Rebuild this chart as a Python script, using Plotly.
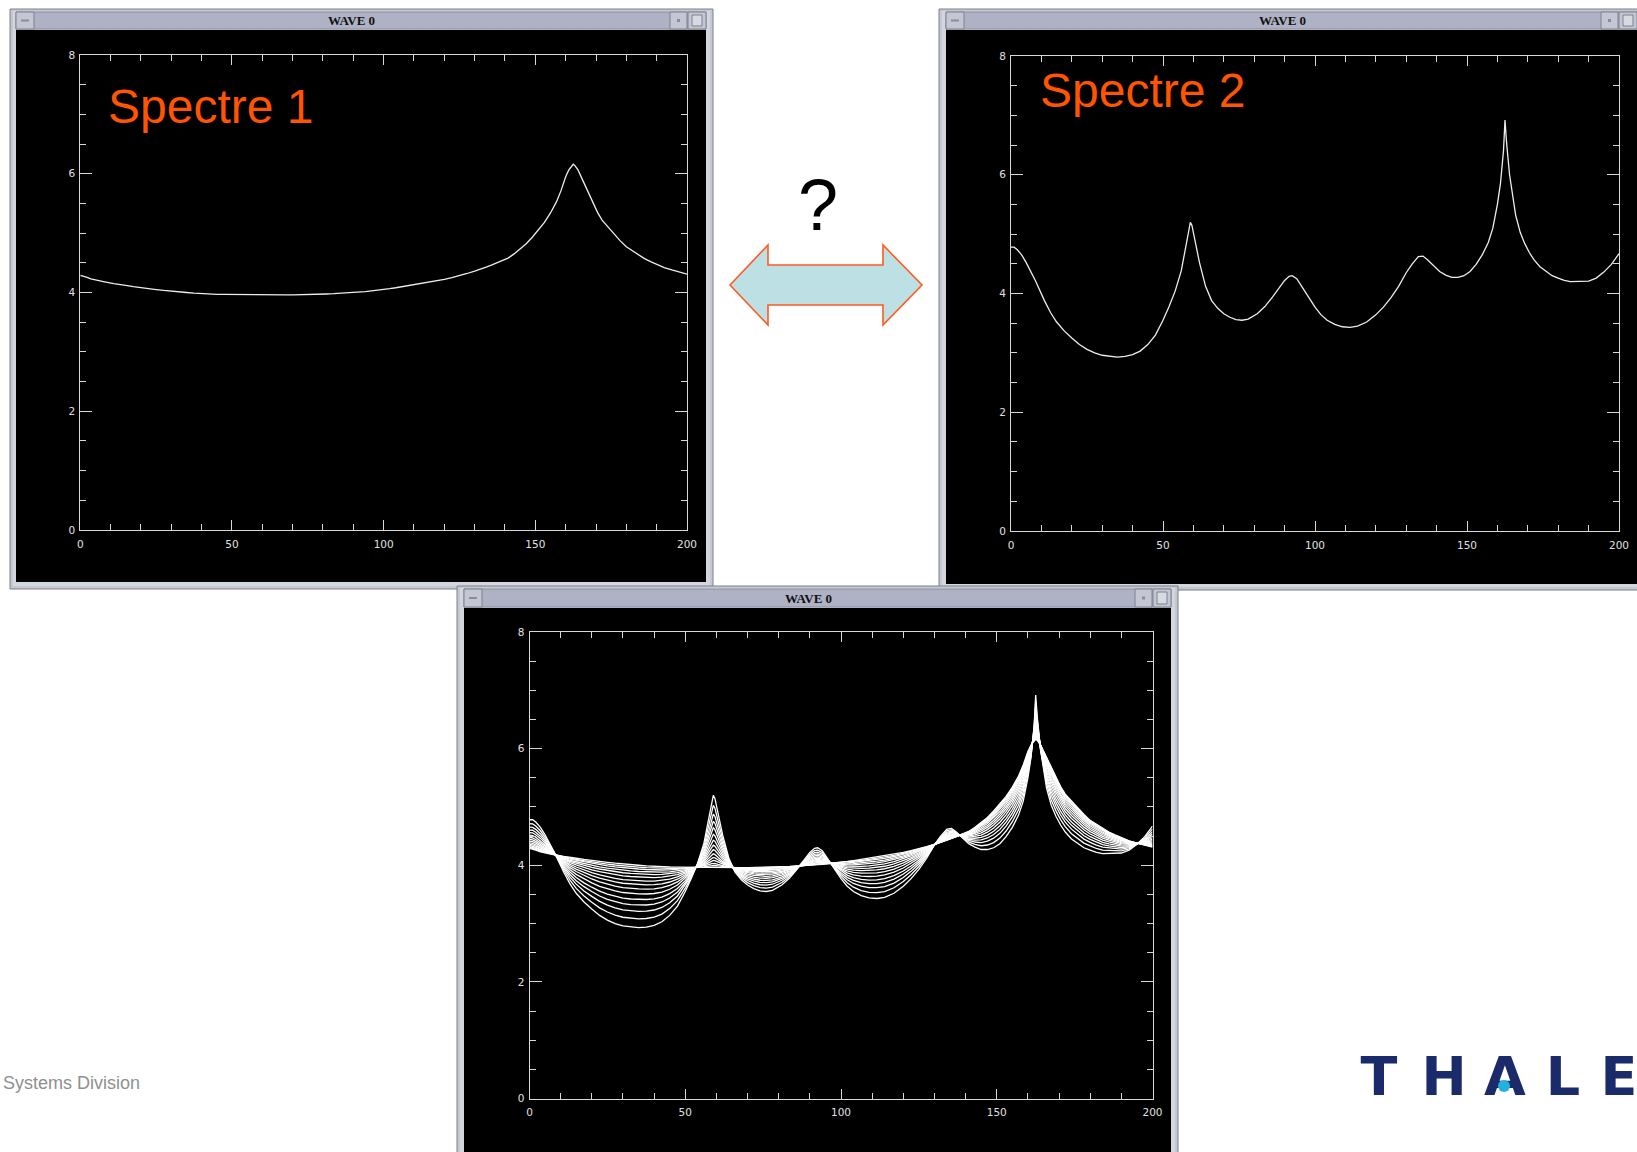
import plotly.graph_objects as go

W, H = 1637, 1152

# ---------------- data ----------------
x_pts = [0, 1, 2, 3.5, 5, 6.5, 8, 11, 13, 15, 17.5, 20, 22.5, 25, 27.5, 30, 32.5, 35,
         37.5, 40, 42.5, 45, 47.5, 50, 52, 54, 56, 57.5, 58.5, 59, 59.5, 60.5, 62, 64,
         66, 68, 70, 72, 74, 76, 78, 81, 83.5, 86, 88, 90, 91.5, 92.5, 94, 96, 98,
         100, 102, 104, 106.5, 109, 111.5, 114, 117, 120, 122.5, 125, 127.5, 130, 132,
         134, 135.5, 137, 139, 141, 143, 145, 147, 149, 151, 153, 155, 157, 158.5, 160,
         161, 162, 162.5, 163, 164, 165, 166, 167.5, 169, 170.5, 172, 174, 176, 178,
         180, 182, 184, 186, 188, 190, 192.5, 195, 197.5, 200]

spectre1 = [4.29, 4.28, 4.26, 4.23, 4.21, 4.19, 4.18, 4.15, 4.13, 4.12, 4.10, 4.08,
            4.065, 4.05, 4.035, 4.02, 4.01, 4.00, 3.99, 3.98, 3.975, 3.97, 3.967, 3.965,
            3.962, 3.96, 3.96, 3.96, 3.96, 3.96, 3.96, 3.96, 3.96, 3.96, 3.96, 3.96,
            3.96, 3.965, 3.967, 3.97, 3.972, 3.975, 3.98, 3.985, 3.99, 4.00, 4.005,
            4.01, 4.015, 4.025, 4.035, 4.05, 4.065, 4.08, 4.10, 4.12, 4.14, 4.16, 4.19,
            4.22, 4.25, 4.28, 4.32, 4.36, 4.39, 4.43, 4.46, 4.49, 4.53, 4.58, 4.65, 4.73,
            4.82, 4.93, 5.05, 5.18, 5.34, 5.53, 5.72, 5.95, 6.06, 6.14, 6.16, 6.14, 6.07,
            5.96, 5.85, 5.67, 5.50, 5.35, 5.22, 5.10, 4.98, 4.87, 4.77, 4.70, 4.63, 4.57,
            4.52, 4.47, 4.42, 4.38, 4.34, 4.31]

spectre2 = [4.78, 4.78, 4.74, 4.65, 4.52, 4.38, 4.22, 3.88, 3.68, 3.52, 3.37, 3.25,
            3.14, 3.06, 3.00, 2.96, 2.94, 2.93, 2.94, 2.97, 3.03, 3.14, 3.30, 3.55,
            3.78, 4.04, 4.38, 4.78, 5.08, 5.20, 5.15, 4.90, 4.52, 4.12, 3.88, 3.75,
            3.66, 3.60, 3.56, 3.55, 3.57, 3.66, 3.78, 3.94, 4.09, 4.22, 4.29, 4.30,
            4.25, 4.10, 3.93, 3.77, 3.64, 3.55, 3.48, 3.44, 3.43, 3.45, 3.52, 3.64,
            3.77, 3.93, 4.12, 4.35, 4.50, 4.62, 4.63, 4.57, 4.47, 4.37, 4.31, 4.27,
            4.27, 4.30, 4.37, 4.49, 4.65, 4.86, 5.10, 5.50, 5.85, 6.40, 6.92, 6.55,
            6.00, 5.62, 5.32, 5.03, 4.84, 4.69, 4.57, 4.45, 4.37, 4.30, 4.26, 4.22,
            4.20, 4.20, 4.20, 4.21, 4.26, 4.36, 4.49, 4.67]

# mixing weights of the family of curves drawn in the lower window
mix_weights = [0.0, 0.03, 0.06, 0.10, 0.14, 0.19, 0.25, 0.31, 0.38, 0.46, 0.55,
               0.64, 0.74, 0.86, 1.0]

x_tick_vals = [0, 50, 100, 150, 200]
y_tick_vals = [0, 2, 4, 6, 8]
window_title = "WAVE 0"
label1 = "Spectre 1"
label2 = "Spectre 2"
footer = "Systems Division"
logo_letters = ["T", "H", "A", "L", "E"]


def fx(px):
    return px / W


def fy(py):
    return 1 - py / H


fig = go.Figure()

line_col = "#ededed"
fig.add_trace(go.Scatter(x=x_pts, y=spectre1, xaxis="x", yaxis="y", mode="lines",
                         line=dict(color=line_col, width=1.3), hoverinfo="skip",
                         showlegend=False))
fig.add_trace(go.Scatter(x=x_pts, y=spectre2, xaxis="x2", yaxis="y2", mode="lines",
                         line=dict(color=line_col, width=1.3), hoverinfo="skip",
                         showlegend=False))
for w in mix_weights:
    ys = [(1 - w) * a + w * b for a, b in zip(spectre1, spectre2)]
    fig.add_trace(go.Scatter(x=x_pts, y=ys, xaxis="x3", yaxis="y3", mode="lines",
                             line=dict(color="#ffffff", width=1.3), hoverinfo="skip",
                             showlegend=False))

# company logo letters on a hidden page-sized layer (pixel coordinates)
logo_x = [1379, 1444, 1505, 1563, 1619]
logo_y = [1081] * len(logo_x)
fig.add_trace(go.Scatter(x=logo_x, y=logo_y, text=logo_letters, mode="text",
                         xaxis="x4", yaxis="y4", textposition="middle center",
                         textfont=dict(family="DejaVu Sans", size=54, color="#1b2a6b",
                                       weight="bold"),
                         hoverinfo="skip", showlegend=False, cliponaxis=True))

axcol = "#d8d8d8"
tickfont = dict(family="DejaVu Sans", size=10.5, color="#e0e0e0")


def xaxis(px0, px1, anchor):
    return dict(domain=[fx(px0), fx(px1)], anchor=anchor, range=[0, 200],
                tickmode="array", tickvals=x_tick_vals,
                ticktext=[str(v) for v in x_tick_vals],
                showline=True, linecolor=axcol, linewidth=1, mirror="ticks",
                ticks="inside", ticklen=10, tickwidth=1, tickcolor=axcol,
                minor=dict(ticks="inside", tick0=0, dtick=10, ticklen=6,
                           tickwidth=1, tickcolor=axcol),
                showgrid=False, zeroline=False, tickfont=tickfont,
                ticklabelstandoff=4, fixedrange=True, automargin=False)


def yaxis(py0, py1, anchor):
    return dict(domain=[fy(py1), fy(py0)], anchor=anchor, range=[0, 8],
                tickmode="array", tickvals=y_tick_vals,
                ticktext=[str(v) for v in y_tick_vals],
                showline=True, linecolor=axcol, linewidth=1, mirror="ticks",
                ticks="inside", ticklen=12, tickwidth=1, tickcolor=axcol,
                minor=dict(ticks="inside", tick0=0, dtick=0.5, ticklen=6,
                           tickwidth=1, tickcolor=axcol),
                showgrid=False, zeroline=False, tickfont=tickfont,
                ticklabelstandoff=2, fixedrange=True, automargin=False)


shapes = []


def rect(x0, y0, x1, y1, fill, line=None, lw=0):
    shapes.append(dict(type="rect", xref="paper", yref="paper",
                       x0=fx(x0), x1=fx(x1), y0=fy(y1), y1=fy(y0),
                       fillcolor=fill, line=dict(color=line or fill, width=lw),
                       layer="below"))


frame_fill = "#c5c8d3"
frame_line = "#7d808c"
bar_fill = "#aeb2c4"


def window(fx0, fy0, fx1, fy1, bar_y0, bar_y1, bx0, bx1, black_bottom, black_right):
    rect(fx0, fy0, fx1, fy1, frame_fill, frame_line, 1)
    rect(fx0 + 3, fy0 + 2, fx1 - 3, fy1 - 3, "#d4d6de", None, 0)
    rect(bx0, bar_y0, bx1, bar_y1, bar_fill, "#8a8d9a", 1)
    # left button
    rect(bx0, bar_y0, bx0 + 18, bar_y1, "#c4c7d3", "#7f828e", 1)
    rect(bx0 + 5, (bar_y0 + bar_y1) / 2 - 1, bx0 + 13, (bar_y0 + bar_y1) / 2 + 1,
         "#8a8d99", None, 0)
    # right buttons
    rect(bx1 - 36, bar_y0, bx1 - 19, bar_y1, "#c4c7d3", "#7f828e", 1)
    rect(bx1 - 29, (bar_y0 + bar_y1) / 2 - 1.5, bx1 - 26, (bar_y0 + bar_y1) / 2 + 1.5,
         "#8a8d99", None, 0)
    rect(bx1 - 18, bar_y0, bx1, bar_y1, "#c4c7d3", "#7f828e", 1)
    rect(bx1 - 14, bar_y0 + 3, bx1 - 4, bar_y1 - 3, "#d8dae2", "#7f828e", 1)
    # black canvas
    rect(bx0, bar_y1 + 1, black_right, black_bottom, "#000000", None, 0)


window(10, 9, 713, 589, 12, 29, 16, 706, 582, 706)
window(939, 9, 1650, 590, 12, 29, 946, 1637, 584, 1637)
window(457, 586, 1178, 1160, 589, 607, 464, 1171, 1152, 1171)

# double arrow between the two spectra
arrow_pts = [(730, 285), (768, 245), (768, 265), (883, 265), (883, 245), (922, 285),
             (883, 325), (883, 305), (768, 305), (768, 325)]
path = "M " + " L ".join(f"{fx(a):.5f},{fy(b):.5f}" for a, b in arrow_pts) + " Z"
shapes.append(dict(type="path", xref="paper", yref="paper", path=path,
                   fillcolor="#bde0e4", line=dict(color="#ff5a1e", width=1.6),
                   layer="above"))

# cyan dot of the logo (above the logo letters)
shapes.append(dict(type="circle", xref="paper", yref="paper",
                   x0=fx(1498), x1=fx(1510), y0=fy(1092), y1=fy(1080),
                   fillcolor="#22b2dc", line=dict(width=0), layer="above"))

annotations = []


def text(x, y, s, size, color, family="Liberation Sans", xanchor="center",
         yanchor="middle", bold=False):
    annotations.append(dict(x=fx(x), y=fy(y), xref="paper", yref="paper", text=s,
                            showarrow=False, xanchor=xanchor, yanchor=yanchor,
                            font=dict(family=family, size=size, color=color,
                                      weight="bold" if bold else "normal")))


text(351, 20.5, window_title, 13, "#111111", "Liberation Serif", bold=True)
text(1282, 20.5, window_title, 13, "#111111", "Liberation Serif", bold=True)
text(808, 598, window_title, 13, "#111111", "Liberation Serif", bold=True)

text(106, 107, label1, 48, "#ff5400", xanchor="left")
text(1038, 90, label2, 48, "#ff5400", xanchor="left")
text(818, 205, "?", 72, "#000000")

text(1, 1083, footer, 18, "#8f8f8f", xanchor="left")

fig.update_layout(
    width=W, height=H,
    margin=dict(l=0, r=0, t=0, b=0, pad=0, autoexpand=False),
    paper_bgcolor="#ffffff",
    plot_bgcolor="rgba(0,0,0,0)",
    showlegend=False,
    xaxis=xaxis(80.3, 687, "y"),
    yaxis=yaxis(55, 530, "x"),
    xaxis2=xaxis(1011, 1619, "y2"),
    yaxis2=yaxis(56, 531, "x2"),
    xaxis3=xaxis(529.5, 1152.5, "y3"),
    yaxis3=yaxis(632, 1098.5, "x3"),
    xaxis4=dict(domain=[0, 1], anchor="y4", range=[0, W], visible=False,
                fixedrange=True, automargin=False),
    yaxis4=dict(domain=[0, 1], anchor="x4", range=[H, 0], visible=False,
                fixedrange=True, automargin=False),
    shapes=shapes,
    annotations=annotations,
)

fig.write_html("out.html", config={"displayModeBar": False},
               post_script="document.body.style.margin='0px';")
